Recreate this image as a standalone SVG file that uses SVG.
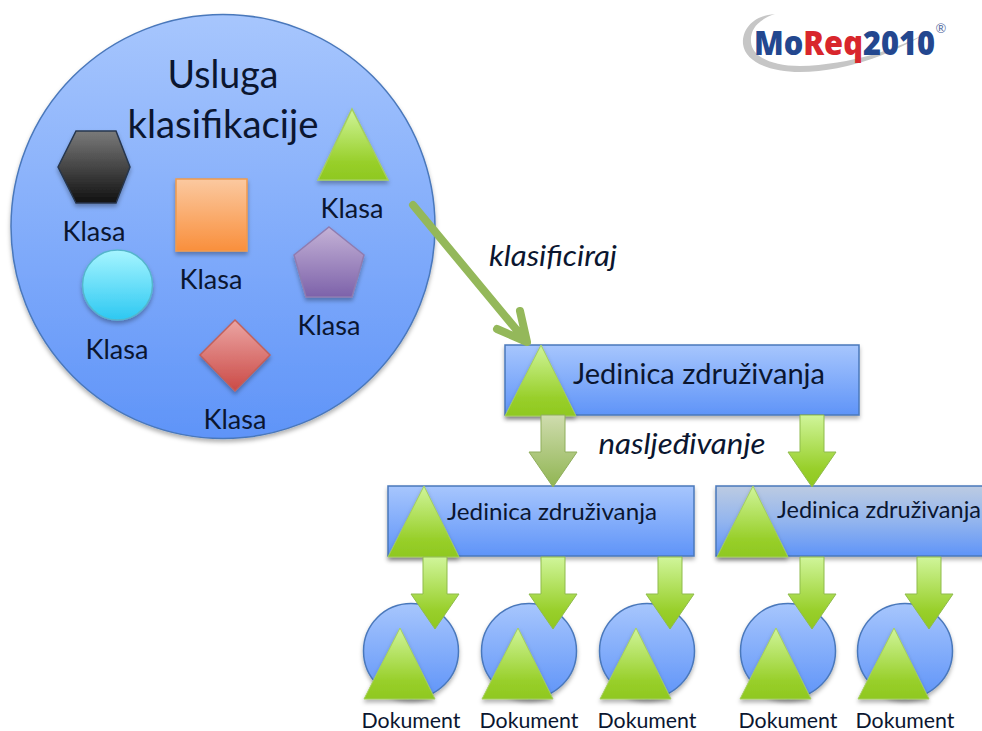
<svg xmlns="http://www.w3.org/2000/svg" width="982" height="731" viewBox="0 0 982 731">
<defs>
<linearGradient id="blue" x1="0" y1="0" x2="0" y2="1"><stop offset="0" stop-color="#a7c6fd"/><stop offset="1" stop-color="#5f94f8"/></linearGradient>
<linearGradient id="blue2" x1="0" y1="0" x2="0" y2="1"><stop offset="0" stop-color="#bccbe2"/><stop offset="0.5" stop-color="#93b5ee"/><stop offset="1" stop-color="#5f94f8"/></linearGradient>
<linearGradient id="green" x1="0" y1="0" x2="0" y2="1"><stop offset="0" stop-color="#d0f59a"/><stop offset="0.75" stop-color="#98cf2a"/><stop offset="1" stop-color="#8fc820"/></linearGradient>
<linearGradient id="olive" x1="0" y1="0" x2="0" y2="1"><stop offset="0" stop-color="#cfdcae"/><stop offset="1" stop-color="#90b552"/></linearGradient>
<linearGradient id="gray" x1="0" y1="0" x2="0" y2="1"><stop offset="0" stop-color="#7a7a7a"/><stop offset="1" stop-color="#111"/></linearGradient>
<linearGradient id="orange" x1="0" y1="0" x2="0" y2="1"><stop offset="0" stop-color="#fbc9a0"/><stop offset="1" stop-color="#f98f3c"/></linearGradient>
<linearGradient id="cyan" x1="0" y1="0" x2="0" y2="1"><stop offset="0" stop-color="#a6f5ff"/><stop offset="1" stop-color="#2dc8f2"/></linearGradient>
<linearGradient id="purple" x1="0" y1="0" x2="0" y2="1"><stop offset="0" stop-color="#c4b2d6"/><stop offset="1" stop-color="#7d62aa"/></linearGradient>
<linearGradient id="red" x1="0" y1="0" x2="0" y2="1"><stop offset="0" stop-color="#eba5a3"/><stop offset="1" stop-color="#cb4a46"/></linearGradient>
<filter id="sh" x="-10%" y="-10%" width="120%" height="125%"><feDropShadow dx="0" dy="3" stdDeviation="2" flood-color="#000" flood-opacity="0.3"/></filter>
<path id="arrow" d="M-12 0H12V37H24L0 72L-24 37H-12Z"/>
<path id="tri" d="M36 0L71 71H0Z"/>
</defs>
<style>
text{font-family:Lato,"Open Sans","Liberation Sans",sans-serif;fill:#0b1630;text-anchor:middle}
.n{stroke-width:1.500;filter:url(#sh)}
.b{fill:url(#blue);stroke:#4a78bb}
.t{fill:url(#green);stroke:#a5cf5e;stroke-width:1;filter:url(#sh)}
.a{fill:url(#green);stroke:#8fbb4c;stroke-width:1}
.k{font-size:27px}
.d{font-size:21px}
.u{font-size:24px}
.i{font-size:28px;font-style:italic}
</style>
<rect width="982" height="731" fill="#fff"/>
<g id="service">
<circle class="n b" cx="223" cy="226.500" r="212"/>
<text x="223" y="88" font-size="39" textLength="111" lengthAdjust="spacingAndGlyphs">Usluga</text>
<text x="223" y="138" font-size="39" textLength="191" lengthAdjust="spacingAndGlyphs">klasifikacije</text>
</g>
<g id="class-hexagon"><polygon class="n" points="58,167 76,131 116,131 130,167 116,203 76,203" fill="url(#gray)" stroke="#26364d"/><text class="k" x="94" y="241" textLength="63" lengthAdjust="spacingAndGlyphs">Klasa</text></g>
<g id="class-square"><rect class="n" x="176" y="179" width="71" height="72" fill="url(#orange)" stroke="#f09a4e"/><text class="k" x="211" y="289" textLength="63" lengthAdjust="spacingAndGlyphs">Klasa</text></g>
<g id="class-triangle"><polygon class="n" points="352,109 388,180 318,180" fill="url(#green)" stroke="#a5cf5e"/><text class="k" x="352" y="218" textLength="63" lengthAdjust="spacingAndGlyphs">Klasa</text></g>
<g id="class-pentagon"><polygon class="n" points="329,227 364,255 352,297 306,297 294,255" fill="url(#purple)" stroke="#8f7cb0"/><text class="k" x="329" y="335" textLength="63" lengthAdjust="spacingAndGlyphs">Klasa</text></g>
<g id="class-circle"><circle class="n" cx="117.500" cy="285" r="35" fill="url(#cyan)" stroke="#55b5cc"/><text class="k" x="117" y="359" textLength="63" lengthAdjust="spacingAndGlyphs">Klasa</text></g>
<g id="class-diamond"><polygon class="n" points="235,320 270,355 235,391 200,355" fill="url(#red)" stroke="#c0605c"/><text class="k" x="235" y="429" textLength="63" lengthAdjust="spacingAndGlyphs">Klasa</text></g>
<g id="logo">
<path d="M775 14C750 16 742 32 743 44C745 62 770 72 800 72C850 72 900 50 928 32C900 48 850 65 800 66C770 66 752 56 751 42C750 30 757 20 775 14Z" fill="#c6c6c6"/>
<text x="844.500" y="55" font-size="33" font-weight="800" style="fill:#23478f;font-family:'Open Sans',sans-serif" textLength="181" lengthAdjust="spacingAndGlyphs">Mo<tspan style="fill:#d8262c">Req</tspan>2010</text>
<text x="941" y="33" font-size="13" style="fill:#5f75a8">®</text>
</g>
<g id="root"><rect class="n b" x="505" y="345" width="354" height="70"/><use href="#tri" class="t" x="505" y="345"/><text x="699" y="384" font-size="28" textLength="252" lengthAdjust="spacingAndGlyphs">Jedinica združivanja</text></g>
<g id="unit-a"><rect class="n b" x="388" y="486" width="306" height="70"/><use href="#tri" class="t" x="388" y="486"/><text class="u" x="552" y="520" textLength="210" lengthAdjust="spacingAndGlyphs">Jedinica združivanja</text></g>
<g id="unit-b"><rect class="n" x="716" y="486" width="276" height="70" fill="url(#blue2)" stroke="#4a78bb"/><use href="#tri" class="t" x="717" y="486"/><text class="u" x="879" y="518" textLength="204" lengthAdjust="spacingAndGlyphs">Jedinica združivanja</text></g>
<g id="doc-1"><circle class="n b" cx="411" cy="651" r="47.500"/><use href="#tri" class="t" x="364" y="628"/><text class="d" x="411" y="728" textLength="99" lengthAdjust="spacingAndGlyphs">Dokument</text></g>
<g id="doc-2"><circle class="n b" cx="529" cy="651" r="47.500"/><use href="#tri" class="t" x="482" y="628"/><text class="d" x="529" y="728" textLength="99" lengthAdjust="spacingAndGlyphs">Dokument</text></g>
<g id="doc-3"><circle class="n b" cx="647" cy="651" r="47.500"/><use href="#tri" class="t" x="600" y="628"/><text class="d" x="647" y="728" textLength="99" lengthAdjust="spacingAndGlyphs">Dokument</text></g>
<g id="doc-4"><circle class="n b" cx="788" cy="651" r="47.500"/><use href="#tri" class="t" x="740" y="628"/><text class="d" x="788" y="728" textLength="99" lengthAdjust="spacingAndGlyphs">Dokument</text></g>
<g id="doc-5"><circle class="n b" cx="905" cy="651" r="47.500"/><use href="#tri" class="t" x="858" y="628"/><text class="d" x="905" y="728" textLength="99" lengthAdjust="spacingAndGlyphs">Dokument</text></g>
<g id="connectors">
<path d="M413 205L525 340M520 311L527 342L497 329" fill="none" stroke="#94b85a" stroke-width="8" stroke-linecap="round" stroke-linejoin="round"/>
<use href="#arrow" x="553" y="415" style="fill:url(#olive);stroke:#8fae5c"/>
<use href="#arrow" class="a" x="812" y="415"/>
<use href="#arrow" class="a" x="435" y="557"/>
<use href="#arrow" class="a" x="553" y="557"/>
<use href="#arrow" class="a" x="670" y="557"/>
<use href="#arrow" class="a" x="812" y="557"/>
<use href="#arrow" class="a" x="929" y="557"/>
</g>
<text class="i" x="553" y="266" textLength="128" lengthAdjust="spacingAndGlyphs">klasificiraj</text>
<text class="i" x="682" y="454" textLength="167" lengthAdjust="spacingAndGlyphs">nasljeđivanje</text>
</svg>
